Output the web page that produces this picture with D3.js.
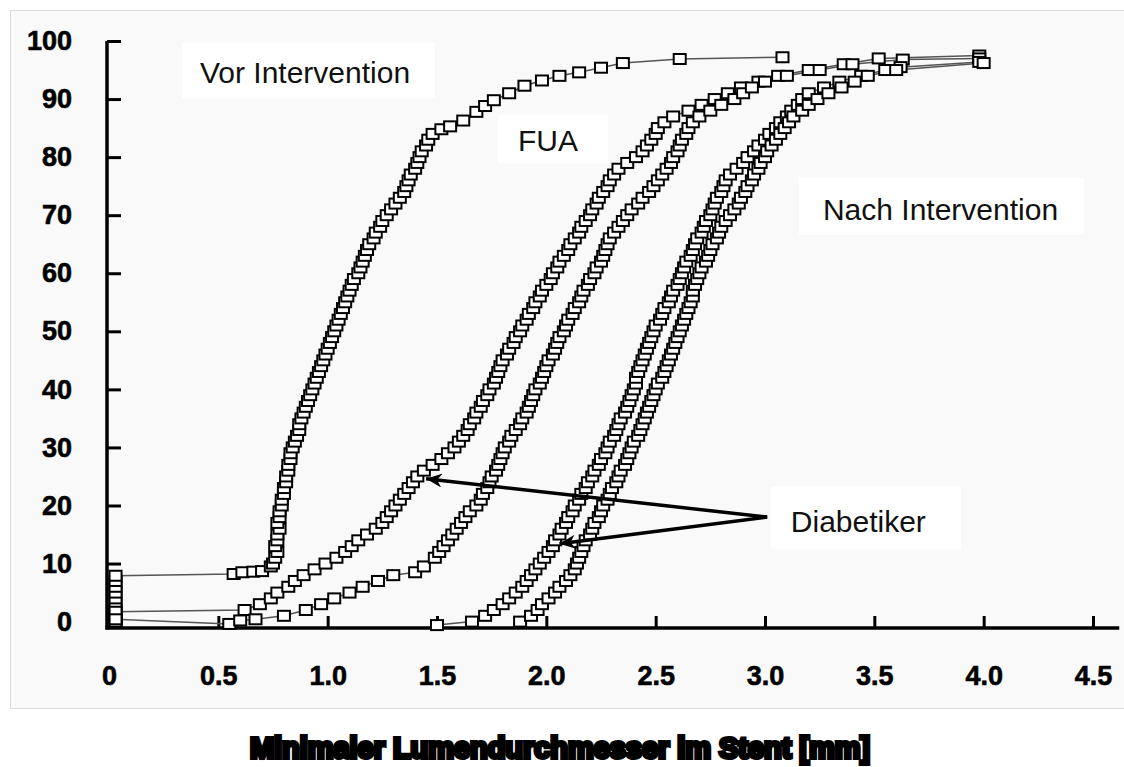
<!DOCTYPE html>
<meta charset="utf-8">
<style>
body { margin: 0; background: #fff; }
.tick text { font-family: "Liberation Sans", Arial, sans-serif; font-weight: bold; font-size: 27px; fill: #000; stroke: #000; stroke-width: 0.6px; }
.tick line { stroke: #000; stroke-width: 3px; }
.note { font-family: "Liberation Sans", Arial, sans-serif; font-size: 30px; fill: #111; }
</style>
<svg width="1124" height="767"></svg>
<script src="https://d3js.org/d3.v7.min.js"></script>
<script>
// cumulative curves [mm, %]
var vorIntervention = [
  [0.03,0],[0.03,1],[0.03,2],[0.03,3],[0.03,4],[0.03,5],[0.03,6],[0.03,7],[0.03,7.9],
  [0.57,8.2],[0.61,8.5],[0.66,8.6],[0.7,8.7],[0.74,9.5],
  [0.75,10],[0.76,11],[0.77,12],[0.76,13],[0.77,14],[0.77,15],[0.78,16],[0.77,17],[0.78,18],[0.78,19],
  [0.79,20],[0.79,21],[0.8,22],[0.8,23],[0.81,24],[0.81,25],[0.82,26],[0.82,27],[0.83,28],[0.83,29],
  [0.84,30],[0.85,31],[0.86,32],[0.87,33],[0.87,34],[0.88,35],[0.89,36],[0.9,37],[0.91,38],[0.92,39],
  [0.93,40],[0.94,41],[0.95,42],[0.96,43],[0.97,44],[0.98,45],[0.99,46],[1.0,47],[1.01,48],[1.02,49],
  [1.03,50],[1.04,51],[1.05,52],[1.06,53],[1.07,54],[1.08,55],[1.09,56],[1.1,57],[1.11,58],[1.12,59],
  [1.14,60],[1.15,61],[1.16,62],[1.17,63],[1.18,64],[1.19,65],[1.21,66],[1.22,67],[1.24,68],[1.25,69],
  [1.27,70],[1.29,71],[1.31,72],[1.33,73],[1.35,74],[1.36,75],[1.37,76],[1.38,77],[1.4,78],[1.41,79],
  [1.42,80],[1.43,81],[1.45,82],[1.46,83],[1.48,84],[1.52,84.8],[1.56,85.3],
  [1.62,86.3],[1.68,87.8],[1.72,88.8],[1.76,89.8],[1.83,91],[1.9,92.3],[1.98,93.2],[2.06,94],[2.15,94.6],
  [2.25,95.4],[2.35,96.2],[2.61,96.9],[3.08,97.2]
];
var fuaDiabetiker = [
  [0.03,0.5],[0.03,1.7],[0.62,2],[0.69,3],[0.74,4],[0.77,5],[0.82,6],[0.85,7],[0.89,8],[0.94,9],
  [0.99,10],[1.04,11],[1.08,12],[1.11,13],[1.14,14],[1.18,15],[1.22,16],[1.25,17],[1.27,18],[1.29,19],
  [1.31,20],[1.33,21],[1.35,22],[1.37,23],[1.39,24],[1.41,25],[1.44,26],[1.48,27],[1.52,28],[1.55,29],
  [1.58,30],[1.6,31],[1.62,32],[1.64,33],[1.65,34],[1.67,35],[1.68,36],[1.7,37],[1.71,38],[1.73,39],
  [1.74,40],[1.76,41],[1.77,42],[1.78,43],[1.79,44],[1.8,45],[1.82,46],[1.83,47],[1.85,48],[1.86,49],
  [1.88,50],[1.89,51],[1.91,52],[1.92,53],[1.94,54],[1.95,55],[1.97,56],[1.98,57],[2.0,58],[2.02,59],
  [2.03,60],[2.05,61],[2.06,62],[2.08,63],[2.1,64],[2.11,65],[2.13,66],[2.15,67],[2.16,68],[2.18,69],
  [2.2,70],[2.21,71],[2.23,72],[2.24,73],[2.26,74],[2.28,75],[2.29,76],[2.31,77],[2.33,78],[2.37,79],
  [2.41,80],[2.44,81],[2.46,82],[2.48,83],[2.5,84],[2.51,85],[2.54,86],[2.58,87],[2.65,88],[2.71,89],
  [2.77,90],[2.83,91],[2.89,92],[2.97,93],[3.06,94],[3.2,95],[3.36,96],[3.52,97],[3.98,97.5]
];
var fuaOhne = [
  [0.03,0],[0.03,0.4],[0.55,-0.4],[0.6,0.2],[0.67,0.4],[0.8,1],[0.9,2],[0.97,3],[1.03,4],[1.1,5],
  [1.16,6],[1.23,7],[1.3,8],[1.4,8.5],[1.44,9.5],[1.49,11],[1.51,12],[1.53,13],[1.55,14],[1.57,15],
  [1.59,16],[1.61,17],[1.63,18],[1.65,19],[1.68,20],[1.7,21],[1.71,22],[1.73,23],[1.74,24],[1.75,25],
  [1.77,26],[1.78,27],[1.79,28],[1.8,29],[1.81,30],[1.83,31],[1.84,32],[1.86,33],[1.88,34],[1.89,35],
  [1.91,36],[1.92,37],[1.93,38],[1.94,39],[1.95,40],[1.97,41],[1.98,42],[1.99,43],[2.0,44],[2.01,45],
  [2.03,46],[2.04,47],[2.05,48],[2.06,49],[2.08,50],[2.09,51],[2.1,52],[2.12,53],[2.13,54],[2.15,55],
  [2.16,56],[2.17,57],[2.19,58],[2.2,59],[2.22,60],[2.23,61],[2.25,62],[2.26,63],[2.27,64],[2.28,65],
  [2.29,66],[2.31,67],[2.33,68],[2.35,69],[2.37,70],[2.39,71],[2.42,72],[2.44,73],[2.47,74],[2.49,75],
  [2.51,76],[2.53,77],[2.55,78],[2.57,79],[2.58,80],[2.6,81],[2.61,82],[2.62,83],[2.64,84],[2.65,85],
  [2.67,86],[2.7,87],[2.75,88],[2.8,89],[2.86,90],[2.9,91],[2.94,92],[3.0,93],[3.1,94],[3.25,95],
  [3.4,96],[3.63,96.8],[3.98,97]
];
var nachDiabetiker = [
  [1.5,-0.6],[1.66,0],[1.72,1],[1.76,2],[1.8,3],[1.83,4],[1.86,5],[1.89,6],[1.91,7],[1.93,8],
  [1.95,9],[1.97,10],[1.99,11],[2.01,12],[2.03,13],[2.04,14],[2.06,15],[2.07,16],[2.09,17],[2.1,18],
  [2.12,19],[2.13,20],[2.15,21],[2.16,22],[2.18,23],[2.19,24],[2.21,25],[2.22,26],[2.24,27],[2.25,28],
  [2.27,29],[2.28,30],[2.29,31],[2.31,32],[2.32,33],[2.33,34],[2.34,35],[2.36,36],[2.37,37],[2.38,38],
  [2.39,39],[2.4,40],[2.41,41],[2.41,42],[2.42,43],[2.43,44],[2.44,45],[2.45,46],[2.46,47],[2.47,48],
  [2.48,49],[2.49,50],[2.5,51],[2.52,52],[2.53,53],[2.54,54],[2.56,55],[2.57,56],[2.58,57],[2.6,58],
  [2.61,59],[2.62,60],[2.63,61],[2.64,62],[2.66,63],[2.67,64],[2.68,65],[2.69,66],[2.71,67],[2.72,68],
  [2.73,69],[2.75,70],[2.76,71],[2.77,72],[2.78,73],[2.8,74],[2.81,75],[2.82,76],[2.84,77],[2.87,78],
  [2.9,79],[2.92,80],[2.95,81],[2.97,82],[3.0,83],[3.02,84],[3.05,85],[3.07,86],[3.1,87],[3.12,88],
  [3.15,89],[3.17,90],[3.2,91],[3.27,92],[3.34,93],[3.44,94],[3.55,95],[3.62,95.5],[3.98,96.4]
];
var nachOhne = [
  [1.88,0],[1.93,1],[1.96,2],[1.98,3],[2.01,4],[2.04,5],[2.06,6],[2.09,7],[2.11,8],[2.13,9],
  [2.14,10],[2.15,11],[2.16,12],[2.17,13],[2.18,14],[2.2,15],[2.21,16],[2.22,17],[2.24,18],[2.25,19],
  [2.26,20],[2.28,21],[2.29,22],[2.3,23],[2.32,24],[2.33,25],[2.34,26],[2.36,27],[2.37,28],[2.38,29],
  [2.39,30],[2.4,31],[2.42,32],[2.43,33],[2.44,34],[2.45,35],[2.46,36],[2.47,37],[2.48,38],[2.49,39],
  [2.5,40],[2.51,41],[2.53,42],[2.54,43],[2.55,44],[2.56,45],[2.57,46],[2.58,47],[2.59,48],[2.6,49],
  [2.61,50],[2.62,51],[2.63,52],[2.64,53],[2.65,54],[2.66,55],[2.67,56],[2.67,57],[2.68,58],[2.69,59],
  [2.7,60],[2.71,61],[2.73,62],[2.74,63],[2.75,64],[2.76,65],[2.78,66],[2.79,67],[2.8,68],[2.82,69],
  [2.84,70],[2.86,71],[2.88,72],[2.89,73],[2.91,74],[2.92,75],[2.94,76],[2.95,77],[2.97,78],[2.98,79],
  [3.0,80],[3.01,81],[3.03,82],[3.05,83],[3.07,84],[3.09,85],[3.11,86],[3.13,87],[3.17,88],[3.2,89],
  [3.24,90],[3.29,91],[3.35,92],[3.41,93],[3.47,94],[3.6,95],[4.0,96.2]
];

var xTicks = [0, 0.5, 1.0, 1.5, 2.0, 2.5, 3.0, 3.5, 4.0, 4.5];
var xTickLabels = ["0", "0.5", "1.0", "1.5", "2.0", "2.5", "3.0", "3.5", "4.0", "4.5"];
var yTicks = [0, 10, 20, 30, 40, 50, 60, 70, 80, 90, 100];
var xTitle = "Minimaler Lumendurchmesser im Stent [mm]";

var svg = d3.select("svg");

var x = d3.scaleLinear().domain([0, 4.5]).range([109, 1093]);
var y = d3.scaleLinear().domain([-1.1, 100]).range([628, 41]);

// grey panel
svg.append("rect")
    .attr("x", 10.5).attr("y", 10.5)
    .attr("width", 1124).attr("height", 698)
    .attr("fill", "#f9f9f9")
    .attr("stroke", "#dcdcdc");

// axes
var xAxis = d3.axisBottom(x)
    .tickValues(xTicks)
    .tickFormat(function(d, i) { return xTickLabels[i]; })
    .tickSizeInner(-12).tickSizeOuter(0).tickPadding(38);
var gx = svg.append("g").attr("transform", "translate(0," + y(-1.1) + ")").call(xAxis);
gx.select(".domain").remove();
gx.selectAll(".tick").filter(function(d) { return d === 0; }).select("line").remove();

var yAxis = d3.axisLeft(y)
    .tickValues(yTicks)
    .tickSizeInner(-14).tickSizeOuter(0).tickPadding(35);
var gy = svg.append("g").attr("transform", "translate(107,0)").call(yAxis);
gy.select(".domain").remove();
gy.selectAll(".tick").filter(function(d) { return d === 0; }).select("line").remove();

svg.append("line")
    .attr("x1", 107).attr("x2", 107)
    .attr("y1", y(100)).attr("y2", y(-1.1) + 1.5)
    .attr("stroke", "#000").attr("stroke-width", 3.5);
svg.append("line")
    .attr("x1", 105.5).attr("x2", x(4.62))
    .attr("y1", y(-1.1)).attr("y2", y(-1.1))
    .attr("stroke", "#000").attr("stroke-width", 3.5);

// curves
var curves = [vorIntervention, fuaDiabetiker, fuaOhne, nachDiabetiker, nachOhne];
var line = d3.line().x(function(d) { return x(d[0]); }).y(function(d) { return y(d[1]); });

svg.append("g").selectAll("path")
    .data(curves)
    .enter().append("path")
    .attr("d", line)
    .attr("fill", "none")
    .attr("stroke", "#555")
    .attr("stroke-width", 1.5);

svg.append("g").selectAll("g")
    .data(curves)
    .enter().append("g")
    .selectAll("rect")
    .data(function(d) { return d; })
    .enter().append("rect")
    .attr("x", function(d) { return x(d[0]) - 6; })
    .attr("y", function(d) { return y(d[1]) - 5; })
    .attr("width", 12).attr("height", 10)
    .attr("fill", "#fff")
    .attr("stroke", "#000")
    .attr("stroke-width", 2);

// arrows to the diabetic curves
svg.append("defs").append("marker")
    .attr("id", "head")
    .attr("markerUnits", "userSpaceOnUse")
    .attr("markerWidth", 18).attr("markerHeight", 14)
    .attr("refX", 16).attr("refY", 7)
    .attr("orient", "auto")
    .append("path")
    .attr("d", "M0,0 L16,7 L0,14 L5,7 Z")
    .attr("fill", "#000");

var arrowFrom = [3.01, 18.0];
var arrowTo = [[1.45, 24.6], [2.06, 13.4]];
svg.append("g").selectAll("line")
    .data(arrowTo)
    .enter().append("line")
    .attr("x1", x(arrowFrom[0])).attr("y1", y(arrowFrom[1]))
    .attr("x2", function(d) { return x(d[0]); })
    .attr("y2", function(d) { return y(d[1]); })
    .attr("stroke", "#000")
    .attr("stroke-width", 3.5)
    .attr("marker-end", "url(#head)");

// labels in white boxes
var notes = [
  {text: "Vor Intervention", x: 0.416, y: 92.7, pad: [18, 25, 14, 9]},
  {text: "FUA", x: 1.87, y: 81.0, pad: [20, 30, 9, 6]},
  {text: "Nach Intervention", x: 3.265, y: 69.15, pad: [24, 26, 15, 9]},
  {text: "Diabetiker", x: 3.118, y: 15.5, pad: [20, 35, 18, 11]}
];
notes.forEach(function(n) {
  var g = svg.append("g");
  var box = g.append("rect").attr("fill", "#fff");
  var t = g.append("text").attr("class", "note")
      .attr("x", x(n.x)).attr("y", y(n.y)).text(n.text);
  var b = t.node().getBBox();
  box.attr("x", b.x - n.pad[0]).attr("y", b.y - n.pad[2])
     .attr("width", b.width + n.pad[0] + n.pad[1])
     .attr("height", b.height + n.pad[2] + n.pad[3]);
});

// axis title
svg.append("text")
    .attr("x", 250).attr("y", 758)
    .attr("textLength", 620)
    .attr("lengthAdjust", "spacingAndGlyphs")
    .style("font-family", "'Liberation Sans', Arial, sans-serif")
    .style("font-weight", "bold")
    .style("font-size", "29px")
    .attr("fill", "#000")
    .attr("stroke", "#000")
    .attr("stroke-width", 4)
    .text(xTitle);
</script>
